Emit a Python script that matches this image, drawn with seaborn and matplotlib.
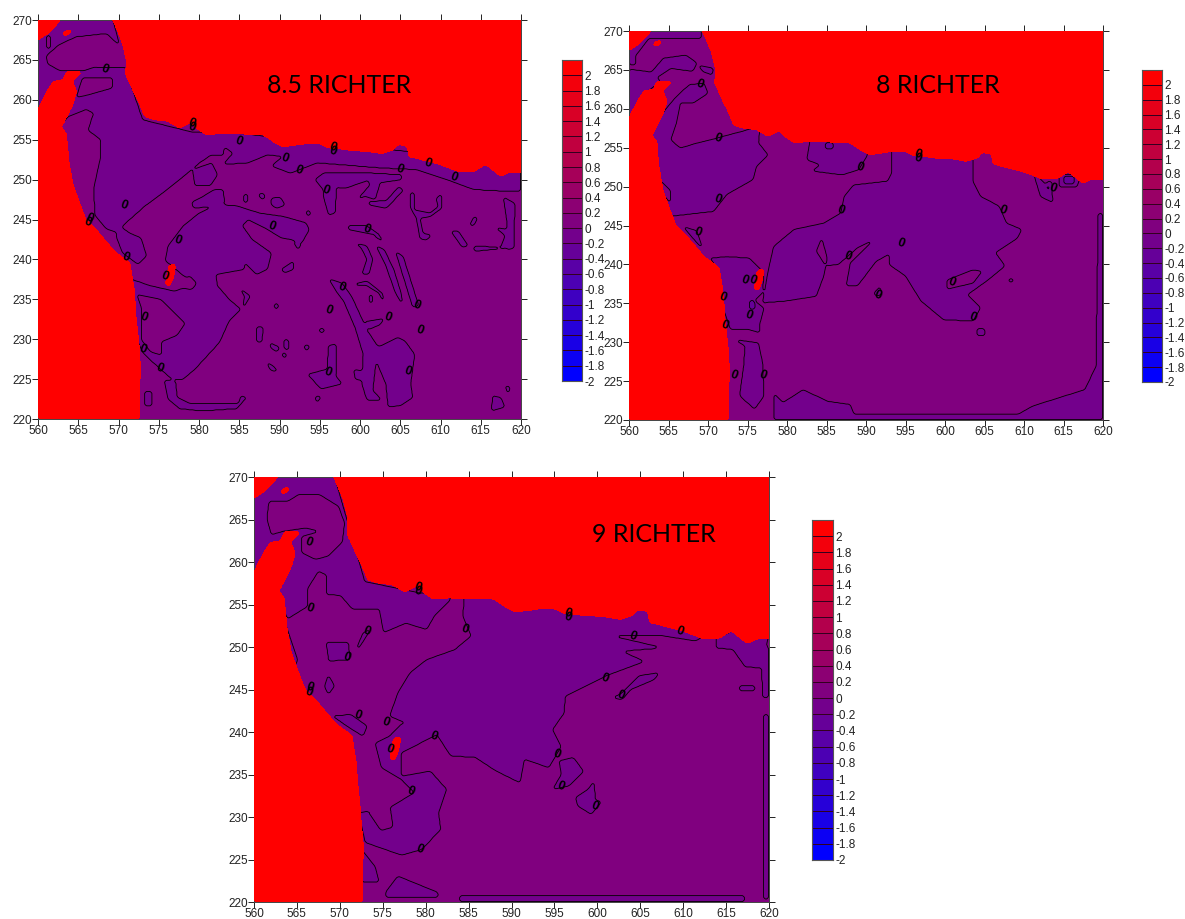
import numpy as np
import matplotlib
matplotlib.use("Agg")
import matplotlib.pyplot as plt
from matplotlib.colors import LinearSegmentedColormap
from matplotlib.path import Path
import seaborn as sns

# colour scale
bar_levels = [2, 1.8, 1.6, 1.4, 1.2, 1, 0.8, 0.6, 0.4, 0.2, 0, -0.2, -0.4, -0.6, -0.8, -1, -1.2, -1.4, -1.6, -1.8, -2]
bar_bands = [2.2, 1.9, 1.7, 1.5, 1.3, 1.1, 0.9, 0.7, 0.5, 0.3, 0.1, -0.1, -0.3, -0.5, -0.7, -0.9, -1.1, -1.3, -1.5, -1.7, -1.9]
contour_levels = [-2, -1.8, -1.6, -1.4, -1.2, -1, -0.8, -0.6, -0.4, -0.2, 0, 0.2]
x_ticks = [560, 565, 570, 575, 580, 585, 590, 595, 600, 605, 610, 615, 620]
y_ticks = [220, 225, 230, 235, 240, 245, 250, 255, 260, 265, 270]

# coastline, same on all three maps
land_north = [(569.3, 270), (569.74, 268.96), (570.35, 267.5), (571, 265), (570.85, 263.3), (571.8, 261.2),
              (572.4, 260), (573.25, 257.9), (574.3, 257.55), (576.15, 257.3), (577.58, 256.46),
              (579, 257.17), (579.7, 256.46), (580.9, 255.6), (582.8, 255.8), (585.65, 255.7), (588, 255.6),
              (589.45, 254.6), (590.4, 254.1), (593.25, 254.5), (594.7, 254.6), (596.1, 254), (598.95, 253.67),
              (601.3, 253.5), (602.75, 253.25), (604.2, 253.75), (604.65, 254.4), (605.85, 254.2), (606.1, 252.9),
              (608, 252.4), (609.9, 251.9), (612.25, 251), (614.15, 251), (615.6, 251.9), (617.5, 250.4),
              (618.4, 250.9), (620, 251), (620, 270)]
land_west = [(560, 258.9), (561.2, 261.2), (561.9, 262.3), (563.1, 262.5), (563.5, 263.5), (565.4, 263.5),
             (564.3, 262.3), (564.8, 261), (564.3, 259.3), (562.9, 256.6), (563.5, 255.8), (563.7, 253.7),
             (563.8, 252.5), (564.3, 249.6), (565, 247.5), (565.94, 245), (567.6, 243.3), (569.5, 241),
             (571.4, 239.6), (571.88, 236.7), (572.1, 233.75), (572.45, 230), (572.73, 226.7), (572.6, 220), (560, 220)]
land_corner = [(560, 267.5), (561.2, 268.3), (562.3, 269.4), (562.7, 270), (560, 270)]
land_islet = [(563.1, 268.5), (564.15, 268.85), (563.9, 268.2), (563.2, 268.05)]
land_island = [(576.25, 239.25), (577.1, 239.4), (576.86, 237.9), (576.4, 236.7), (575.8, 236.75), (576.05, 238.1)]
land_parts = [land_north, land_west, land_corner, land_islet, land_island]

# 8.5 Richter
a_low = [
    [(560, 270), (569.3, 270), (571.2, 262.9), (573, 257.5), (579, 256), (583, 255.8), (583.2, 254.4), (583, 253),
     (581.4, 253), (580.2, 252.2), (577.6, 250), (575.2, 248.1), (573.3, 246.7), (571.4, 245), (569.7, 243.4),
     (568.5, 243.8), (567.1, 245.5), (566.9, 248.8), (567.7, 252.5), (567.8, 255), (566.2, 256.2), (566.9, 258.3),
     (566, 258.8), (563.8, 257.9), (562.6, 256.7), (560, 258.75)],
    [(569.7, 244.5), (571.4, 243.3), (572.8, 242.7), (573.5, 240.4), (572.4, 239.4), (570.5, 240.8), (569.7, 242.9)],
    [(575.8, 239.8), (576.15, 241.7), (578.05, 244.2), (580, 245.8), (582.3, 246.9), (584.7, 246.7), (587.55, 245.8),
     (590.4, 245.4), (593.25, 244.6), (593.7, 243.75), (592.8, 242.1), (591.35, 242.5), (590.2, 242.7), (588.5, 243.75),
     (586.1, 245), (585.4, 244.2), (586.6, 242.5), (589, 240.8), (588.5, 238.75), (587.1, 238.1), (585.65, 239.6),
     (585.65, 238.75), (582.1, 238.1), (582.3, 236.7), (583.75, 235), (585.2, 233.75), (583.75, 232.3), (582.55, 229.6),
     (579.5, 226.25), (578.05, 225), (575.7, 224.8), (576.15, 222.5), (577.6, 221.3), (580.4, 221), (584.7, 221.3),
     (585.9, 222.7), (585.2, 222.9), (584.9, 221.9), (579, 221.9), (577.3, 222.7), (577.1, 224.6), (575.2, 226.25),
     (573, 228.3), (572, 230.8), (571.5, 235.8), (571.6, 237.5), (574, 236.7), (577, 236), (579.5, 237), (578, 238),
     (576.5, 239.3)],
    [(599.2, 242.1), (600.85, 241.7), (601.6, 240), (601.1, 238.1), (600.2, 238.1), (600.85, 240), (600.1, 241.5)],
    [(602, 241.7), (603, 241.25), (604.2, 238.75), (605.1, 235.8), (605.35, 234.2), (604.4, 235.8), (603.2, 239.2)],
    [(604.4, 241), (605.35, 240.4), (606.8, 235.8), (607.3, 234.2), (606.55, 234), (605.6, 237.1)],
    [(596.1, 237.6), (597.8, 237), (599, 235.3), (600.9, 231.1), (602.3, 229), (604.7, 230.25), (605.6, 229.75),
     (606.8, 228.1), (606.3, 224.4), (606.55, 222.7), (605.1, 221.7), (603.5, 221.5), (603.2, 224.4), (602, 227.3),
     (601.6, 223.6), (602.75, 222.3), (600.9, 222.3), (600.2, 224.4), (600.4, 228.1), (599.4, 231.4), (598, 234.7),
     (597.05, 236)],
    [(594.4, 250), (595.45, 250.8), (598.55, 250.8), (598.55, 249.1), (597.1, 249.1), (596.9, 245.8), (596.1, 245.55),
     (595.45, 247.9), (595.45, 248.7)],
    [(583, 256), (620, 252), (620, 248.5), (618.9, 248.5), (614.15, 248.75), (611.3, 249.8), (607, 251.25),
     (602.75, 251.45), (594.7, 252.1), (591.35, 250.8), (589, 251.7), (590.4, 252.9), (588.5, 253.1), (586.1, 252.1),
     (583, 251.9), (584.2, 253.3), (583, 254.2)],
    [(617.8, 247.85), (619.25, 247), (619.1, 241.4), (618.2, 241.2), (618.2, 245)],
    [(596.3, 250.8), (601.65, 250.8), (605.2, 250.6), (605.2, 250), (602.5, 249.6), (601.9, 247.5), (600.6, 247.9),
     (597.5, 246.4), (599.8, 247.65), (601.2, 249.3), (601, 249.9), (598.15, 248.9), (596.3, 249.1)],
    [(601, 247.2), (603.3, 247.4), (604.8, 249.1), (605.4, 248.7), (603.3, 246.4), (601.2, 246.8)],
    [(606.2, 248.3), (606.8, 248.35), (606.8, 246.2), (608.7, 245.8), (609.7, 246.6), (609.45, 247.65), (610.15, 248.2),
     (610.15, 246.4), (608.7, 245.35), (607.45, 245.15), (607.85, 243.25), (608.9, 243.05), (608.3, 242.4),
     (607.45, 242.6), (607, 245.15), (606.2, 246.6)],
    [(611.3, 243.5), (612.25, 243.5), (613.45, 241.7), (612.7, 241.5)],
    [(614.15, 245.4), (614.6, 245.2), (614.15, 244.2), (613.6, 244.2)],
    [(616.8, 244), (618.4, 243.75), (618.9, 241.5), (614.15, 241), (614.15, 241.7), (617.5, 241.5), (618, 243)],
    [(598.5, 244.2), (600.85, 244.2), (603, 242.7), (601.8, 243.1), (598.5, 243.75)],
    [(601.85, 243.05), (602.9, 242.4), (602.8, 242.2), (601.8, 242.8)],
    [(599.2, 236.9), (600.85, 237.3), (602.75, 235.8), (603.2, 234.2), (602.3, 235.8), (600.85, 236.7), (599.2, 236.7)],
    [(579.2, 251.25), (581.6, 252.1), (582.3, 250.6), (581.4, 249.2), (579.5, 249.2)],
    [(579.1, 247.2), (580.1, 247.65), (581.8, 248.7), (583, 248.7), (583.2, 247), (581.2, 246.6), (579.3, 246.4)],
    [(585.5, 248.1), (586.1, 248.2), (586.1, 247.2), (585.5, 247.1)],
    [(587.4, 248.3), (588.2, 248.2), (588.2, 247.5), (587.6, 247.65)],
    [(588.9, 247.65), (590.1, 247.8), (590.7, 246.8), (589.65, 246.4), (589, 246.8)],
    [(593.3, 246.2), (593.9, 246), (593.7, 245.4), (593.3, 245.6)],
    [(591.7, 242.2), (592.75, 242), (592.3, 241.2)],
    [(596.1, 229.2), (597.05, 229.4), (597, 225.4), (597.8, 224.4), (595.15, 223.75), (593.5, 225.6), (595.9, 226.25)],
    [(587.1, 231.5), (588, 231.5), (587.8, 229.6), (587.1, 229.6)],
    [(584.9, 236.5), (586.4, 235.4), (585.4, 233.75), (585.65, 235.4)],
    [(590.2, 238.75), (591.8, 239.8), (591.8, 238.75), (590.6, 238.3)],
    [(616.5, 222.9), (617.5, 222.7), (618, 221.5), (616.3, 221)],
    [(618, 224.2), (618.7, 224), (618.4, 223.1)],
    [(573.2, 223.4), (574.2, 223.4), (574.2, 221.6), (573.2, 221.6)],
    [(589.3, 234.4), (589.85, 234.4), (589.85, 233.8), (589.3, 233.8)],
    [(594.95, 231.3), (595.6, 231.3), (595.6, 230.8), (594.95, 230.8)],
    [(588.8, 229.6), (590, 229), (589.7, 228.4), (588.9, 228.9)],
    [(590.5, 229.9), (591.1, 229.9), (591.2, 228.6), (590.6, 228.8)],
    [(593, 229.2), (593.8, 229.2), (593.4, 228.4)],
    [(588.3, 227.2), (589.3, 226.6), (589.8, 225.9), (588.9, 226.1)],
    [(590.2, 228.2), (590.9, 228.2), (590.7, 227.5)],
    [(599.2, 226.2), (600.4, 226), (600.2, 224.8), (599.4, 225)],
    [(594.4, 222.8), (595.2, 222.8), (594.6, 222)],
    [(601.1, 235.5), (601.6, 235.5), (601.6, 234.5), (601.2, 234.6)],
    [(602.2, 229.1), (603.6, 229.3), (603.4, 228.8), (602.3, 228.6)],
    [(600.6, 232.2), (603, 232.6), (602.5, 231.8), (601, 231.2)],
    [(606.3, 228), (606.6, 228), (606.6, 226.7), (606.3, 226.7)],
]
a_high = [
    [(561.2, 264.5), (561, 265.5), (562.6, 266.9), (564.75, 267.9), (568.55, 268.3), (570.7, 266.25), (570.9, 264),
     (567.1, 264.1), (565.5, 263.6), (562.8, 263.6)],
    [(565.5, 262.7), (569.3, 262.7), (569.3, 261.5), (566.2, 260.6), (564.75, 260.3)],
    [(572.3, 235.6), (575.2, 235), (577.3, 233), (578.3, 232), (577.3, 230.5), (575.4, 229.7), (575.4, 228), (574, 228.4),
     (572.8, 230), (572.9, 232), (572.8, 234)],
    [(577.85, 237.4), (578.9, 237.9), (579.7, 237), (579.1, 236.2), (578.05, 236.4)],
    [(561, 268), (561.6, 268), (561.6, 266.4), (561, 266.4)],
]
a_deep = []
a_zeros = [(568.3, 263.85), (579.05, 257), (579.05, 256.5), (585, 254.75), (590.6, 252.6), (592.45, 251.1), (596.6, 254),
           (596.6, 253.5), (608.45, 252.05), (611.7, 250.25), (604.9, 251.25), (595.7, 248.7), (570.6, 246.75),
           (566.4, 245.1), (566.2, 244.6), (589, 244.1), (577.4, 242.4), (570.9, 240.3), (575.8, 237.9), (597.8, 236.5),
           (596.1, 233.6), (607, 234.2), (607.4, 231.1), (603.5, 232.7), (600.85, 243.8), (573.1, 232.7), (573, 228.7),
           (575.1, 226.3), (596, 225.9), (606, 226)]

# 8 Richter
b_low = [
    [(560, 270), (569.2, 270), (569.2, 269.1), (562.5, 269), (560.9, 266.9), (560.8, 265.6), (560, 265.6)],
    [(560, 265.1), (563, 264.7), (564, 263.5), (562, 262), (561, 260), (560, 258.7)],
    [(562.9, 264.8), (564.35, 266.5), (567.2, 266.9), (568.6, 265.9), (568.1, 264.8), (565.3, 265.2), (563.4, 263.9)],
    [(568.8, 265.6), (570.7, 265.2), (570.5, 264.35), (569.3, 264.8)],
    [(565.3, 256), (566.5, 254.95), (568.6, 255.6), (571, 256.2), (574.3, 257.1), (576.6, 257.8), (576.4, 255.6),
     (577.6, 254.1), (576.15, 252.6), (575.7, 250.9), (572.4, 249), (570.7, 246.8), (565.3, 246.2), (564, 248.3),
     (563.2, 251.3), (563.2, 255.15), (562.4, 256.4), (563.2, 257.9), (564.6, 259.9), (566, 261.6), (567.65, 263.1),
     (569.5, 263.3), (570, 262), (568.1, 260.7), (566.5, 260.7), (566, 258.15)],
    [(566.8, 244.9), (568.6, 244.3), (569.3, 242.1), (568.4, 243)],
    [(570.25, 240.8), (572.4, 241), (575.2, 240.8), (577.1, 238.9), (576.9, 236.3), (575.9, 235.3), (577.1, 234.4),
     (576.6, 232.5), (576.6, 231.2), (575.2, 231.6), (572.85, 231.6), (571.4, 235.9), (571, 239.8)],
    [(573.3, 230.35), (576.4, 229.9), (576.9, 227.4), (577.1, 223.1), (575.9, 221.4), (574, 223.1), (574.5, 226.9),
     (574.7, 229.5)],
    [(593.2, 255), (603.55, 254), (603.55, 250.7), (604.5, 248.75), (606.85, 247.5), (607.8, 245.3), (609.7, 244.5),
     (609.2, 243.4), (606.4, 241.5), (607.6, 239.8), (605.45, 238), (602.85, 236.1), (604.5, 234.4), (603.55, 232.7),
     (599.8, 232.9), (596.95, 235.3), (595, 238.5), (592.9, 240), (592.9, 241.3), (591.3, 240.4), (588.9, 237.2),
     (587.5, 237.2), (588, 240.2), (591, 243.2), (588.9, 242.1), (586.5, 240), (584.9, 239.8), (583.7, 241.7),
     (584.4, 243.4), (585.1, 240.8), (584.65, 238.5), (583.7, 235.9), (579.9, 235.3), (576.9, 235.05), (577.6, 239.1),
     (578.3, 242.3), (580.9, 244.5), (584.65, 245.3), (586.8, 246.6), (587.25, 248.75), (588.4, 250.2), (592.7, 250.7),
     (593.2, 251.7)],
    [(583, 256.5), (582.5, 253.45), (584.2, 252.8), (583.2, 252), (587, 251.5), (589.1, 252.2), (590.1, 253.9),
     (590.3, 255.5)],
    [(611.1, 252), (612.1, 248.7), (613.7, 247.9), (613.5, 249.6), (612.5, 250.5)],
    [(578.3, 223.5), (579.5, 222.25), (582.05, 223.9), (585.15, 222.4), (588, 222), (588.5, 220.7), (609.2, 220.7),
     (611.1, 221.8), (614.4, 222.85), (617.7, 223.9), (619.1, 226.9), (619.4, 246.5), (620, 246.5), (620, 220),
     (578.3, 220)],
    [(604, 231.7), (605, 231.7), (605.1, 230.9), (604, 230.8)],
    [(615.9, 228), (616.2, 228), (616.2, 227.2), (615.9, 227.2)],
    [(608, 238.1), (608.7, 238.1), (608.7, 237.7), (608, 237.7)],
    [(591, 236.3), (591.8, 237.2), (592, 236.1), (591.2, 235.9)],
    [(614.4, 251.5), (617.2, 251.5), (616.7, 249.9), (614.5, 249.9)],
]
b_high = [
    [(563.8, 251), (565.3, 249.5), (565.2, 247.9), (564.4, 248.9)],
    [(600.25, 238), (603.55, 239.3), (604.7, 239.1), (603.55, 237.6), (600.25, 236.8)],
]
b_deep = [
    [(615, 251.3), (616.4, 251.3), (616.4, 250.3), (615, 250.3)],
    [(575.2, 235.3), (576, 235.3), (576, 234.2), (575.2, 234.2)],
    [(584.8, 255.6), (585.9, 255.6), (585.9, 254.8), (584.8, 254.8)],
    [(612.8, 250.6), (613.6, 250.6), (613.6, 249.6), (612.8, 249.6)],
]
b_zeros = [(569, 263.2), (571.2, 256.2), (571.25, 248.4), (568.7, 244.1), (586.8, 246.9), (589.25, 252.45), (587.7, 241),
           (594.35, 242.75), (600.8, 237.7), (591.5, 236.05), (607.3, 246.9), (603.55, 233.2), (613.7, 249.8),
           (573.3, 225.7), (576.95, 225.7), (575.2, 233.5), (574.65, 237.9), (575.7, 237.9), (572.15, 232.1),
           (571.9, 235.8), (596.55, 254.1), (596.55, 253.6)]

# 9 Richter
c_low = [
    [(560, 270), (569.4, 270), (572.9, 257.7), (579.1, 256.4), (582.9, 256), (582.9, 255.6), (581, 253.6), (580.1, 252.05),
     (577.7, 252.8), (575.1, 251.7), (574.6, 254.4), (571.5, 254.4), (570.1, 256.05), (568.4, 256.2), (568.4, 258.5),
     (567.5, 258.9), (566.3, 256.95), (566.3, 254.8), (563.9, 253.3), (562.7, 256.4), (564.4, 259.5), (560, 258.7)],
    [(584.5, 256.5), (602.4, 255.5), (613.4, 252), (611.5, 250.7), (607.7, 251.3), (601.7, 251.3), (607.7, 249.9),
     (602.9, 249.5), (605.5, 248.3), (601, 246.6), (596.25, 244.2), (596.15, 242.25), (594.8, 240.3), (595.8, 238.3),
     (594.35, 235.8), (591.5, 236.8), (591, 234), (588.2, 235.4), (585.8, 237), (582.9, 237.2), (581.3, 239.7),
     (580.55, 239.9), (575.8, 241.85), (576.75, 244.6), (578.2, 247), (580.1, 248.5), (583.4, 249.7), (585.3, 251.3),
     (584.35, 253.6)],
    [(581.3, 239.7), (577.2, 237.55), (577.2, 234.8), (580.55, 235.4), (582.45, 233.25), (581.5, 230.5), (581.75, 228.55),
     (579.6, 226.2), (577.2, 225.5), (572.95, 227), (572.2, 230.5), (575.8, 231.1), (578.65, 232.85), (577.2, 234.4),
     (574.85, 235.8), (574.1, 238.7), (575.8, 239.5), (577.2, 241)],
    [(595.55, 236.6), (597.2, 237), (598.4, 235.4), (596.7, 233.65), (594.8, 233.25), (595.8, 235)],
    [(599.6, 234.2), (599.8, 232), (600.5, 231.8), (599.3, 230.3), (597.7, 231.3), (597.45, 232.3), (598.9, 233.25)],
    [(601.7, 244), (602.9, 244.6), (604.8, 246.6), (607.2, 247), (606.7, 246.2), (603.9, 245), (602.9, 243.8)],
    [(616.5, 245.4), (618.4, 245.4), (618.4, 244.8), (616.5, 244.8)],
    [(619.3, 242), (620, 242), (620, 220.3), (619.3, 220.3)],
    [(619, 250), (620, 250), (620, 244), (619.3, 244)],
    [(583.9, 220.7), (617.2, 220.7), (617.2, 220), (583.9, 220)],
    [(575.3, 221.1), (576.75, 223.05), (581.5, 221.1), (581.5, 220.5), (575.3, 220.5)],
    [(572.5, 226.2), (574.1, 224.2), (574.6, 222.3), (572.5, 222.3)],
    [(568.4, 250.6), (571, 250.5), (571.2, 248.5), (568.7, 248.35)],
    [(568.65, 246.75), (569.4, 245.4), (568.65, 244.4), (568.2, 245.4)],
    [(572.1, 249.7), (573.7, 252.2), (572.7, 251.65), (572, 250)],
    [(563.5, 253.2), (565.1, 248.5), (564.6, 247.5), (563.4, 250.9)],
    [(569.15, 241.9), (571.3, 242.05), (573.2, 240.7), (572.7, 239.5), (570.8, 240.7)],
    [(583.4, 249.5), (585.8, 249.9), (585.3, 249.3), (583.4, 248.9)],
    [(613.85, 250.5), (615.75, 252), (617.2, 251.5), (616.7, 249.5), (613.85, 250.4)],
    [(613.85, 249.9), (615.8, 249.7), (617.2, 247.7), (619.1, 247.5), (620, 251.5), (613.85, 251.5)],
]
c_high = [
    [(561.75, 267.1), (563.9, 267.1), (565.1, 267.9), (567.7, 267.9), (569.85, 266.55), (570.55, 264.6), (570.3, 262.4),
     (568.65, 260.7), (567.2, 260.3), (565.55, 261.1), (565.55, 263), (567.7, 263.6), (566, 264), (563.4, 263.6),
     (562, 263.2), (561.5, 265.2)],
    [(573.3, 230.6), (575.9, 231), (576.2, 228.8), (574.8, 228.4)],
]
c_deep = []
c_zeros = [(566.4, 262.35), (566.5, 254.6), (573.2, 251.85), (570.8, 248.8), (566.5, 245.2), (566.4, 244.7), (572.1, 241.95),
           (575.4, 241.1), (580.9, 239.5), (578.3, 233), (579.3, 226.15), (584.6, 252.1), (604.15, 251.2), (609.6, 251.8),
           (600.9, 246.35), (602.7, 244.3), (595.3, 237.4), (595.8, 233.6), (599.7, 231.3), (579.1, 257), (579.1, 256.5),
           (596.6, 254), (596.6, 253.5), (575.8, 237.9)]

sns.set_style("ticks")
plt.rcParams['font.family'] = ['Liberation Sans', 'DejaVu Sans']

cmap = LinearSegmentedColormap.from_list("bluered", ["#0000ff", "#ff0000"])
scale_min, scale_max = -1.9, 2.1
grid_x = np.linspace(560, 620, 601)
grid_y = np.linspace(220, 270, 501)
X, Y = np.meshgrid(grid_x, grid_y)
pts = np.column_stack([X.ravel(), Y.ravel()])


def fill_mask(parts):
    mask = np.zeros(X.shape, dtype=bool)
    for p in parts:
        mask |= Path(p).contains_points(pts).reshape(X.shape)
    return mask


def soften(mask):
    # rounds the polygon corners a little
    kernel = np.ones(5) / 5.0
    pad = np.pad(mask.astype(float), 2, mode="edge")
    pad = np.apply_along_axis(lambda r: np.convolve(r, kernel, mode="same"), 0, pad)
    pad = np.apply_along_axis(lambda r: np.convolve(r, kernel, mode="same"), 1, pad)
    return pad[2:-2, 2:-2]


land = soften(fill_mask(land_parts))


def draw_map(ax, low, high, deep, zeros, title, title_x, title_y):
    dark = fill_mask(low) & ~fill_mask(high)
    field = 0.1 - 0.2 * soften(dark)
    if deep:
        field = field - 0.2 * soften(fill_mask(deep))
    ax.contourf(X, Y, field, levels=contour_levels, cmap=cmap, vmin=scale_min, vmax=scale_max)
    ax.contour(X, Y, field, levels=[-0.2, 0], colors="black", linewidths=0.6, linestyles="solid")
    ax.contourf(X, Y, land, levels=[0.5, 2], colors=["#ff0000"], zorder=3)
    for zx, zy in zeros:
        ax.text(zx, zy, "0", fontsize=9, fontweight="bold", rotation=-20, ha="center", va="center",
                color="black", zorder=4, clip_on=True)
    ax.text(title_x, title_y, title, fontsize=18, family=["Lato", "DejaVu Sans"], ha="center", va="center",
            color="black", zorder=5)
    ax.set_xlim(560, 620)
    ax.set_ylim(220, 270)
    ax.set_xticks(x_ticks)
    ax.set_yticks(y_ticks)
    ax.tick_params(direction="out", length=4, width=0.7, labelsize=8.5, color="#222222", labelcolor="#222222",
                   top=True, right=True, pad=0.5)
    for s in ax.spines.values():
        s.set_visible(True)
        s.set_linewidth(0.7)
        s.set_color("#444444")


def draw_bar(ax):
    # one row per band of the scale, top band stays pure red
    table = np.array(bar_bands).reshape(-1, 1)
    sns.heatmap(table, ax=ax, cmap=cmap, vmin=scale_min, vmax=scale_max, cbar=False, linewidths=0.7,
                linecolor="#33001f", xticklabels=False)
    ax.set_yticks(np.arange(1, len(bar_levels) + 1))
    ax.set_yticklabels([str(v) for v in bar_levels], rotation=0, fontsize=8.5, color="#222222")
    ax.yaxis.tick_right()
    ax.tick_params(axis="y", length=0, pad=1.5)
    for s in ax.spines.values():
        s.set_visible(True)
        s.set_linewidth(0.8)
        s.set_color("#555555")


W, H = 1185.0, 919.0


def place(fig, left, right, top, bottom):
    return fig.add_axes([left / W, 1 - bottom / H, (right - left) / W, (bottom - top) / H])


fig = plt.figure(figsize=(11.85, 9.19), dpi=100, facecolor="white")

ax_a = place(fig, 38, 521, 20, 419)
draw_map(ax_a, a_low, a_high, a_deep, a_zeros, "8.5 RICHTER", 597.4, 261.75)
draw_bar(place(fig, 562, 582, 60, 381))

ax_b = place(fig, 629, 1103, 31, 420)
draw_map(ax_b, b_low, b_high, b_deep, b_zeros, "8 RICHTER", 599.1, 263)
draw_bar(place(fig, 1142, 1162, 70, 382))

ax_c = place(fig, 254, 769, 477, 902)
draw_map(ax_c, c_low, c_high, c_deep, c_zeros, "9 RICHTER", 606.6, 263.25)
draw_bar(place(fig, 812, 833, 520, 860))

fig.savefig("out.png", dpi=100)
